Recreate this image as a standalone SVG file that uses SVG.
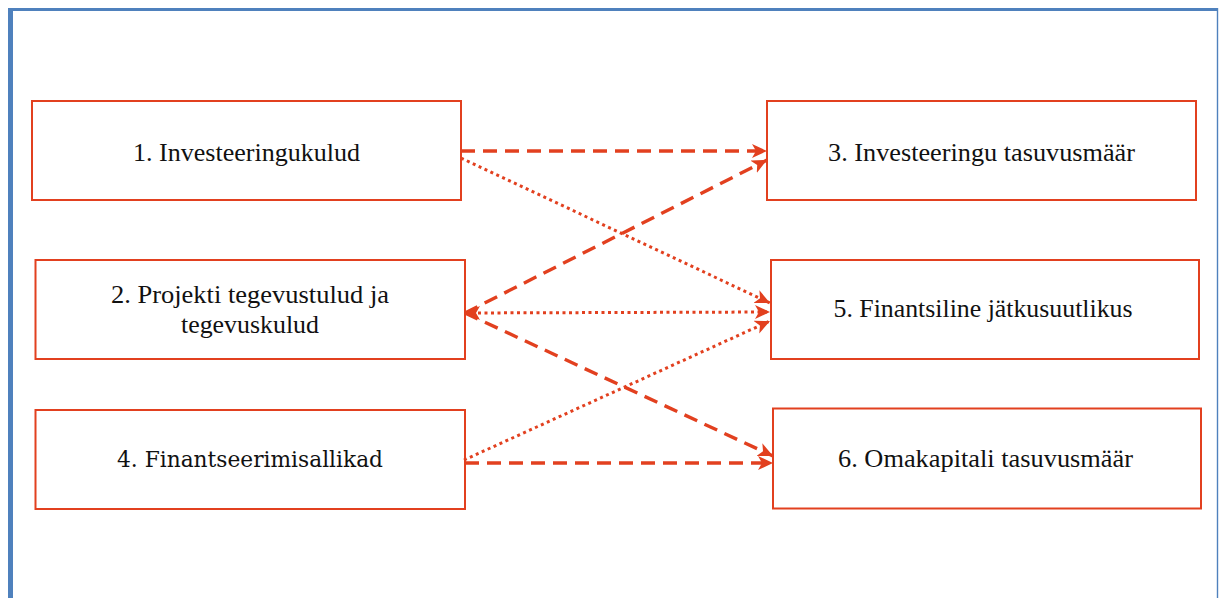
<svg xmlns="http://www.w3.org/2000/svg" width="1219" height="598" viewBox="0 0 1219 598">
  <style>
    .box { fill: #ffffff; stroke: #E2401F; stroke-width: 2; }
    .lbl { font-family: "Liberation Serif", "Times New Roman", serif; font-size: 26px; fill: #111111; text-anchor: middle; }
    .lbl2 { font-family: "DejaVu Serif", "Liberation Serif", serif; font-size: 22px; fill: #111111; text-anchor: middle; }
    .dash { fill: none; stroke: #E2401F; stroke-width: 3.4; stroke-dasharray: 14 8; }
    .dot { fill: none; stroke: #E2401F; stroke-width: 3; stroke-dasharray: 3 3.5; }
  </style>
  <defs>
    <marker id="ah" markerUnits="userSpaceOnUse" markerWidth="18" markerHeight="16" refX="15" refY="7" orient="auto">
      <path d="M0,0 L15,7 L0,14 L4,7 Z" fill="#E2401F"/>
    </marker>
    <marker id="ahs" markerUnits="userSpaceOnUse" markerWidth="18" markerHeight="16" refX="15" refY="7" orient="auto-start-reverse">
      <path d="M0,0 L15,7 L0,14 L4,7 Z" fill="#E2401F"/>
    </marker>
  </defs>
  <rect x="0" y="0" width="1219" height="598" fill="#ffffff"/>
  <g id="frame">
    <rect x="8" y="8" width="1210" height="3" fill="#4F81BD"/>
    <rect x="8" y="8" width="5" height="590" fill="#4F81BD"/>
    <rect x="1216.8" y="8" width="1.4" height="590" fill="#4F81BD"/>
  </g>
  <g id="node1">
    <rect class="box" x="32" y="101" width="429" height="99"/>
    <text class="lbl" x="246.5" y="161" textLength="227" lengthAdjust="spacingAndGlyphs">1. Investeeringukulud</text>
  </g>
  <g id="node2">
    <rect class="box" x="35.5" y="260" width="429.5" height="99"/>
    <text class="lbl" x="250" y="303" textLength="278" lengthAdjust="spacingAndGlyphs">2. Projekti tegevustulud ja</text>
    <text class="lbl" x="250" y="333" textLength="138" lengthAdjust="spacingAndGlyphs">tegevuskulud</text>
  </g>
  <g id="node4">
    <rect class="box" x="35.5" y="410" width="429.5" height="99"/>
    <text class="lbl2" x="250" y="467" textLength="266" lengthAdjust="spacingAndGlyphs">4. Finantseerimisallikad</text>
  </g>
  <g id="node3">
    <rect class="box" x="767" y="101" width="429" height="99"/>
    <text class="lbl" x="981.5" y="161" textLength="307" lengthAdjust="spacingAndGlyphs">3. Investeeringu tasuvusmäär</text>
  </g>
  <g id="node5">
    <rect class="box" x="771" y="260" width="428" height="99"/>
    <text class="lbl" x="983" y="317" textLength="299" lengthAdjust="spacingAndGlyphs">5. Finantsiline jätkusuutlikus</text>
  </g>
  <g id="node6">
    <rect class="box" x="773" y="408.5" width="428" height="100"/>
    <text class="lbl" x="985.5" y="467" textLength="295" lengthAdjust="spacingAndGlyphs">6. Omakapitali tasuvusmäär</text>
  </g>
  <g id="connectors">
    <line class="dash" x1="461" y1="151" x2="767" y2="151" marker-end="url(#ah)"/>
    <line class="dot" x1="461" y1="158" x2="770" y2="303" marker-end="url(#ah)"/>
    <line class="dash" x1="465" y1="313" x2="767" y2="160" marker-end="url(#ah)"/>
    <line class="dot" x1="465" y1="313" x2="770" y2="312" marker-start="url(#ahs)" marker-end="url(#ahs)"/>
    <line class="dash" x1="465" y1="313" x2="773" y2="456" marker-end="url(#ah)"/>
    <line class="dot" x1="464" y1="460" x2="770" y2="321" marker-end="url(#ah)"/>
    <line class="dash" x1="465" y1="463" x2="773" y2="463" marker-end="url(#ah)"/>
  </g>
</svg>
